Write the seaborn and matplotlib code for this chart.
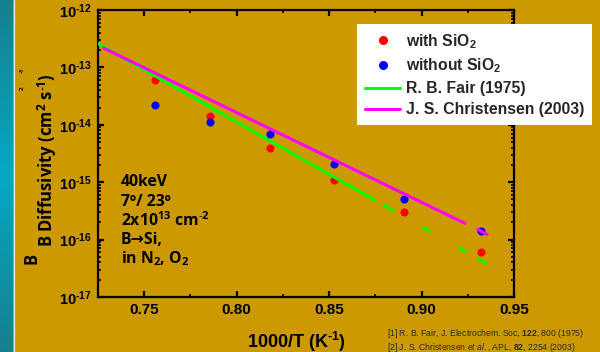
import numpy as np
import pandas as pd
import matplotlib
matplotlib.use("Agg")
import matplotlib.pyplot as plt
import seaborn as sns
from matplotlib.lines import Line2D
from matplotlib.colors import LinearSegmentedColormap
from matplotlib.ticker import FixedLocator, FixedFormatter, LogLocator, NullFormatter, MultipleLocator

# ---------------- data ----------------
inv_T = [0.7557, 0.7854, 0.8178, 0.8525, 0.8905, 0.9321]
with_sio2 = [6.0e-14, 1.4e-14, 3.9e-15, 1.1e-15, 3.0e-16, 6.0e-17]
without_sio2 = [2.2e-14, 1.1e-14, 6.9e-15, 2.1e-15, 5.2e-16, 1.4e-16]

fair_x = [0.725, 0.8749]
fair_y = [2.6e-13, 4.83e-16]
fair_ext_x = [0.8792, 0.9353]
fair_ext_y = [4.04e-16, 3.79e-17]

chr_x = [0.7280, 0.9235]
chr_y = [2.17e-13, 1.92e-16]
chr_ext_x = [0.9305, 0.9354]
chr_ext_y = [1.51e-16, 1.23e-16]

HY = "\u2010"  # short hyphen used for the exponents
x_ticks = [0.75, 0.80, 0.85, 0.90, 0.95]
x_tick_labels = ["0.75", "0.80", "0.85", "0.90", "0.95"]
y_ticks = [1e-17, 1e-16, 1e-15, 1e-14, 1e-13, 1e-12]
y_tick_labels = ["10$^{\\mathbf{" + HY + "17}}$", "10$^{\\mathbf{" + HY + "16}}$",
                 "10$^{\\mathbf{" + HY + "15}}$", "10$^{\\mathbf{" + HY + "14}}$",
                 "10$^{\\mathbf{" + HY + "13}}$", "10$^{\\mathbf{" + HY + "12}}$"]

legend_labels = ["with SiO$_{\\mathbf{2}}$", "without SiO$_{\\mathbf{2}}$",
                 "R. B. Fair (1975)", "J. S. Christensen (2003)"]
note_lines = ["40keV", "7º/ 23º", "2x10$^{\\mathsf{13}}$ cm$^{\\mathsf{" + HY + "2}}$",
              "B\u2192Si,", "in N$_{\\mathsf{2}}$, O$_{\\mathsf{2}}$"]
x_label = "1000/T (K$^{\\mathbf{" + HY + "1}}$)"
y_label = "B Diffusivity (cm$^{\\mathsf{2}}$ s$^{\\mathsf{" + HY + "1}}$)"
refs = ["[1] R. B. Fair, J. Electrochem. Soc, $\\mathbf{122}$, 800 (1975)",
        "[2] J. S. Christensen $\\mathit{et\\ al.}$, APL, $\\mathbf{82}$, 2254 (2003)"]

# ---------------- style ----------------
sns.set_theme(style="ticks")
BG = "#CC9900"
plt.rcParams.update({
    "font.family": ["Liberation Sans", "DejaVu Sans"],
    "mathtext.fontset": "custom",
    "mathtext.rm": "Liberation Sans",
    "mathtext.bf": "Liberation Sans:bold",
    "mathtext.it": "Liberation Sans:italic",
    "mathtext.sf": "Open Sans:bold",
    "axes.facecolor": BG,
    "figure.facecolor": BG,
})

W, H = 600, 352
fig = plt.figure(figsize=(6.0, 3.52), dpi=100)
ax = fig.add_axes([98 / W, 1 - 297 / H, (514 - 98) / W, (297 - 10) / H])
ax.set_facecolor(BG)

df_w = pd.DataFrame({"x": inv_T, "y": with_sio2})
df_wo = pd.DataFrame({"x": inv_T, "y": without_sio2})
sns.scatterplot(data=df_w, x="x", y="y", ax=ax, color="#FF0000", s=34, linewidth=0, zorder=2)
sns.scatterplot(data=df_wo, x="x", y="y", ax=ax, color="#0000FF", s=34, linewidth=0, zorder=2)

lw = 2.2
sns.lineplot(x=fair_x, y=fair_y, ax=ax, color="#00FF00", lw=lw, estimator=None, sort=False, zorder=3)
sns.lineplot(x=fair_ext_x, y=fair_ext_y, ax=ax, color="#00FF00", lw=lw, estimator=None, sort=False, zorder=3)
ax.lines[-1].set_linestyle((0, tuple(v / lw for v in (9.1, 23.2, 6.6, 23.2, 6.6, 9.1, 20, 5))))
sns.lineplot(x=chr_x, y=chr_y, ax=ax, color="#FF00FF", lw=lw, estimator=None, sort=False, zorder=3)
sns.lineplot(x=chr_ext_x, y=chr_ext_y, ax=ax, color="#FF00FF", lw=lw, estimator=None, sort=False, zorder=3)

ax.set_yscale("log")
ax.set_xlim(0.725, 0.95)
ax.set_ylim(1e-17, 1e-12)
ax.set_xlabel("")
ax.set_ylabel("")

ax.xaxis.set_major_locator(FixedLocator(x_ticks))
ax.xaxis.set_major_formatter(FixedFormatter(x_tick_labels))
ax.xaxis.set_minor_locator(MultipleLocator(0.025))
ax.yaxis.set_major_locator(FixedLocator(y_ticks))
ax.yaxis.set_major_formatter(FixedFormatter(y_tick_labels))
ax.yaxis.set_minor_locator(LogLocator(base=10, subs=np.arange(2, 10)))
ax.yaxis.set_minor_formatter(NullFormatter())

for s in ax.spines.values():
    s.set_visible(True)
    s.set_linewidth(1.6)
    s.set_color("black")
ax.tick_params(which="major", direction="in", length=4.5, width=1.6, color="black",
               top=True, right=True, pad=4)
ax.tick_params(axis="x", which="major", labelsize=11)
ax.tick_params(axis="y", which="major", labelsize=10.5, pad=4.5)
ax.tick_params(which="minor", direction="in", length=2.5, width=1.2, color="black",
               top=True, right=True)
for lab in ax.get_xticklabels() + ax.get_yticklabels():
    lab.set_fontweight("bold")
    lab.set_color("black")

# legend (figure level)
handles = [
    Line2D([], [], ls="", marker="o", ms=6.5, mfc="#FF0000", mec="none"),
    Line2D([], [], ls="", marker="o", ms=6.5, mfc="#0000FF", mec="none"),
    Line2D([], [], color="#00FF00", lw=lw),
    Line2D([], [], color="#FF00FF", lw=lw),
]
leg = fig.legend(handles, legend_labels, loc="upper left",
                 bbox_to_anchor=(357 / W, 1 - 24 / H), bbox_transform=fig.transFigure,
                 frameon=True, fancybox=False, framealpha=1, facecolor="white",
                 edgecolor="none", borderaxespad=0, borderpad=0.5,
                 handlelength=2.25, handletextpad=0.35, labelspacing=0.38,
                 prop={"family": "Liberation Sans", "weight": "bold", "size": 11.3})
leg.set_zorder(10)

# annotation block
note_y = [182, 202, 221, 240, 259]
for t, yy in zip(note_lines, note_y):
    fig.text(121 / W, 1 - yy / H, t, ha="left", va="center",
             fontfamily=["Open Sans", "DejaVu Sans"], fontweight="bold", fontsize=11.3, color="black")

# axis labels
fig.text(296 / W, 1 - 348 / H, x_label, ha="center", va="baseline",
         fontfamily="Liberation Sans", fontweight="bold", fontsize=13, color="black")
fig.text(47 / W, 1 - 160 / H, y_label, rotation=90,
         ha="center", va="center", fontfamily="Open Sans", fontweight="bold", fontsize=12, color="black")
fig.text(31 / W, 1 - 258 / H, "B", rotation=90, ha="center", va="center",
         fontfamily="Open Sans", fontweight="bold", fontsize=12, color="black")
fig.text(22 / W, 1 - 70 / H, "-1", rotation=90, ha="center", va="center",
         fontfamily="Open Sans", fontweight="bold", fontsize=4.5, color="black")
fig.text(22 / W, 1 - 88 / H, "2", rotation=90, ha="center", va="center",
         fontfamily="Open Sans", fontweight="bold", fontsize=4.5, color="black")

# references
for t, yy in zip(refs, [334, 348]):
    fig.text(387 / W, 1 - yy / H, t, ha="left", va="center", fontfamily="Liberation Sans",
             fontsize=6.2, color="#2a2a2a")

# teal strip on the left
sax = fig.add_axes([0, 0, 13 / W, 1])
prof = np.array([0.0, 0.5, 1.0, 0.5, 0.0])
cm = LinearSegmentedColormap.from_list("teal", ["#167f8e", "#05a9c4"])
sax.imshow(np.interp(np.linspace(0, 4, 200), np.arange(5), prof)[:, None],
           aspect="auto", cmap=cm, extent=[0, 1, 0, 1])
sax.set_axis_off()
fig.add_artist(Line2D([13.5 / W, 13.5 / W], [0, 1], color="#e6e6d8", lw=0.9, transform=fig.transFigure))

fig.savefig("out.png", dpi=100, facecolor=BG)
